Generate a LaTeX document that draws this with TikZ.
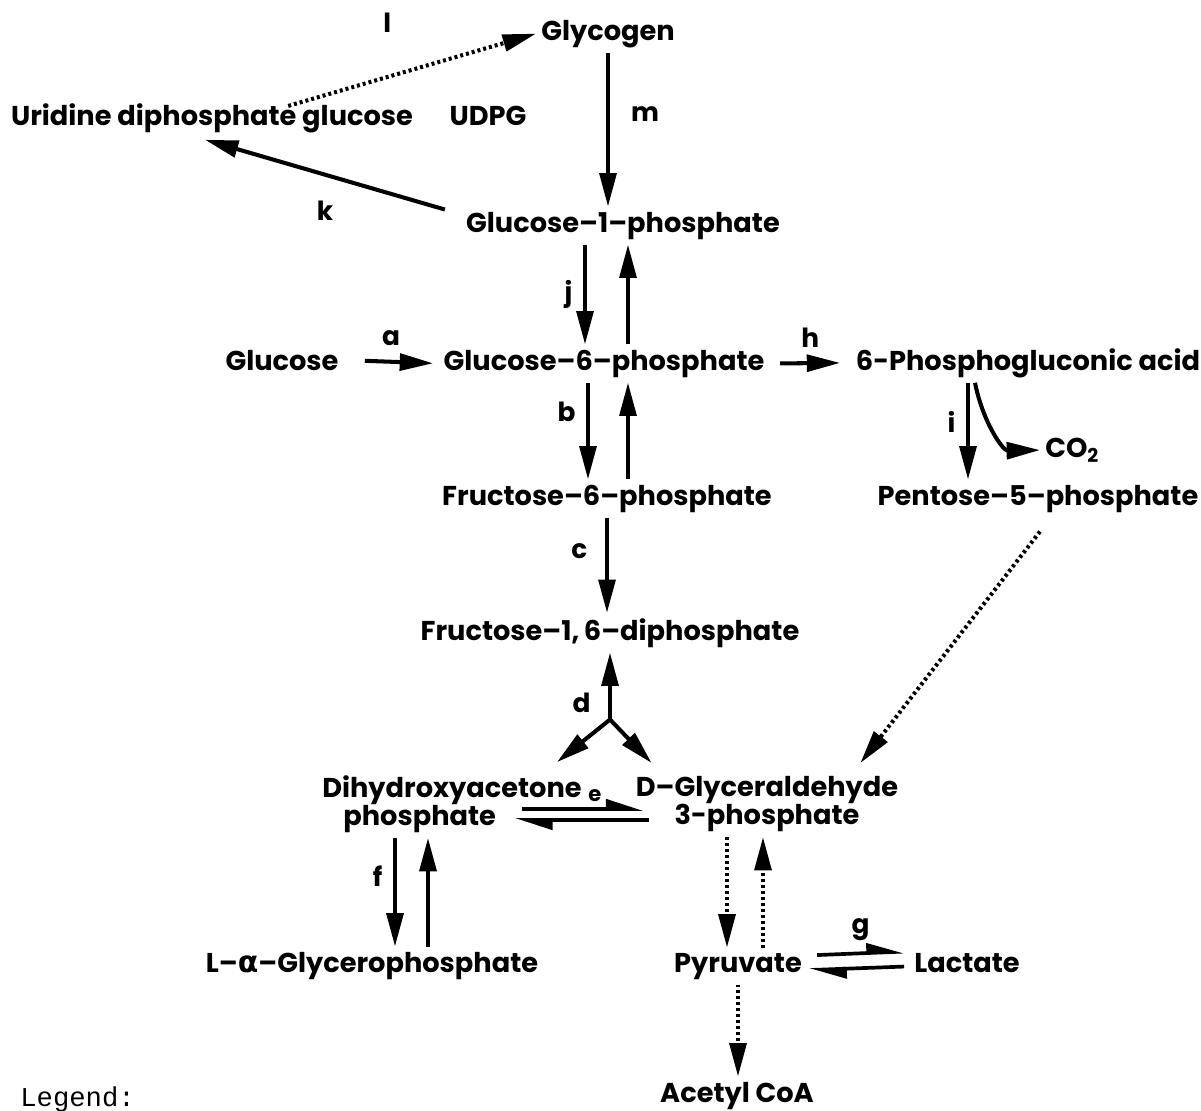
\documentclass[tikz,border=0pt]{standalone}
\usepackage{fontspec}
\setmainfont{Poppins}
\setmonofont{Liberation Mono}
\newfontfamily\grkfont{DejaVu Sans}
\usetikzlibrary{arrows.meta}
\usetikzlibrary{calc, math}

\tikzset{
  met/.style={font=\fontsize{15.5}{20}\selectfont\bfseries, inner sep=0pt, outer sep=3pt, anchor=base},
  enz/.style={font=\fontsize{15}{18}\selectfont\bfseries, inner sep=0pt},
  rx/.style={-{Triangle[length=19pt,width=9.5pt]}, line width=2.3pt},
  rxdot/.style={rx, dash pattern=on 1.7pt off 1.7pt},
  eq/.style={-{Triangle[harpoon,length=18pt,width=11pt]}, line width=2.1pt}
}

\begin{document}
\begin{tikzpicture}[x=0.02cm, y=-0.02cm]
\useasboundingbox (0,0) rectangle (1201,1110);
\tikzmath{
\sh=6;
}
%metabolites
\node[met] (glycogen) at (608,40) {Glycogen};
\node[met] (udpg) at (212,125) {Uridine diphosphate glucose};
\node[met] (udpgab) at (488,125) {UDPG};
\node[met] (g1p) at (623,232) {Glucose--1--phosphate};
\node[met] (glc) at (282,370) {Glucose};
\node[met] (g6p) at (604,370) {Glucose--6--phosphate};
\node[met] (pga) at (1028,370) {6-Phosphogluconic acid};
\node[met, anchor=base west] (co2) at (1040,457) {CO\textsubscript{2}};
\node[met] (f6p) at (607,505) {Fructose--6--phosphate};
\node[met] (p5p) at (1038,505) {Pentose--5--phosphate};
\node[met] (fdp) at (610,640) {Fructose--1,\,6--diphosphate};
\node[met, anchor=center, align=left] (dhap) at (452,804) {Dihydroxyacetone\\[-4pt]\hspace*{12pt}phosphate};
\node[met, anchor=center, align=center] (gap) at (767,804) {D--Glyceraldehyde\\[-4pt]3-phosphate};
\node[met] (gp) at (372,972) {L--{\grkfont\fontsize{17}{20}\selectfont α}--Glycerophosphate};
\node[met] (pyr) at (738,972) {Pyruvate};
\node[met] (lac) at (967,972) {Lactate};
\node[met] (acoa) at (737,1102) {Acetyl CoA};
\node[font=\fontsize{15.5}{18}\selectfont\ttfamily, anchor=base west, inner sep=0pt] (legend) at (20,1106) {Legend:};

%glycogen branch
\draw[rx] (glycogen.south) -- (glycogen.south |- g1p.north) node[enz, pos=0.4, right=12pt]{m};
\draw[rxdot] ($(udpg.north east)+(-130,8)$) -- (glycogen.west) node[enz, pos=0.4, above=24pt]{l};
\draw[rx] ($(g1p.west)+(-16,-16)$) -- ($(udpg.south)+(-7,2)$) node[enz, midway, below=14pt]{k};

%glucose-1-p <-> glucose-6-p
\draw[rx] ($(g1p.south)+(-38,0)$) -- ($(g6p.north)+(-19,0)$) node[enz, midway, left=6pt]{j};
\draw[rx] ($(g6p.north)+(24,0)$) -- ($(g1p.south)+(5,0)$);
\draw[rx, shorten <=\sh*2pt, shorten >=3pt] (glc.east) -- (g6p.west) node[enz, midway, above=8pt]{a};
\draw[rx, shorten <=\sh pt, shorten >=\sh pt] (g6p.east) -- (pga.west) node[enz, midway, above=8pt]{h};

%glucose-6-p <-> fructose-6-p
\draw[rx] ($(g6p.south)+(-16,0)$) -- ($(f6p.north)+(-19,0)$) node[enz, pos=0.3, left=6pt]{b};
\draw[rx] ($(f6p.north)+(21,0)$) -- ($(g6p.south)+(24,0)$);
\draw[rx] (f6p.south) -- (f6p.south |- fdp.north) node[enz, pos=0.35, left=10pt]{c};

%pentose shunt
\draw[rx] ($(pga.south)+(-60,0)$) -- ($(p5p.north)+(-70,0)$) node[enz, pos=0.4, left=6pt]{i};
\draw[rx] ($(pga.south)+(-53,0)$) .. controls ($(pga.south)+(-45,40)$) and ($(pga.south)+(-25,68)$) .. (co2.west);
\draw[rxdot] ($(p5p.south)+(2,14)$) -- ($(gap.north east)+(-43,-8)$);

%aldolase
\coordinate (dfork) at ($(fdp.south)+(0,67)$);
\draw[rx] (dfork) -- (fdp.south) node[enz, pos=0.25, left=10pt]{d};
\draw[rx] (dfork) -- ($(dhap.north east)+(-30,-8)$);
\draw[rx] (dfork) -- ($(gap.north west)+(21,-8)$);

%triose phosphates
\draw[eq] ($(dhap.east)+(-65,5)$) -- ($(gap.west)+(13,5)$) node[enz, font=\fontsize{12}{14}\selectfont\bfseries, pos=0.6, above=3pt]{e};
\draw[eq] ($(gap.west)+(18,16)$) -- ($(dhap.east)+(-72,16)$);
\draw[rx] ($(dhap.south)+(-57,0)$) -- ($(gp.north)+(23,0)$) node[enz, pos=0.35, left=6pt]{f};
\draw[rx] ($(gp.north)+(56,0)$) -- ($(dhap.south)+(-24,0)$);

%glycolysis
\draw[rxdot] ($(gap.south)+(-40,0)$) -- ($(pyr.north)+(-11,0)$);
\draw[rxdot] ($(pyr.north)+(25,0)$) -- ($(gap.south)+(-4,0)$);
\draw[eq] ($(pyr.east)+(10,-11)$) -- ($(lac.west)+(-5,-11)$) node[enz, midway, above=6pt]{g};
\draw[eq] ($(lac.west)+(-5,4)$) -- ($(pyr.east)+(2,4)$);
\draw[rxdot] (pyr.south) -- (pyr.south |- acoa.north);
\end{tikzpicture}
\end{document}
